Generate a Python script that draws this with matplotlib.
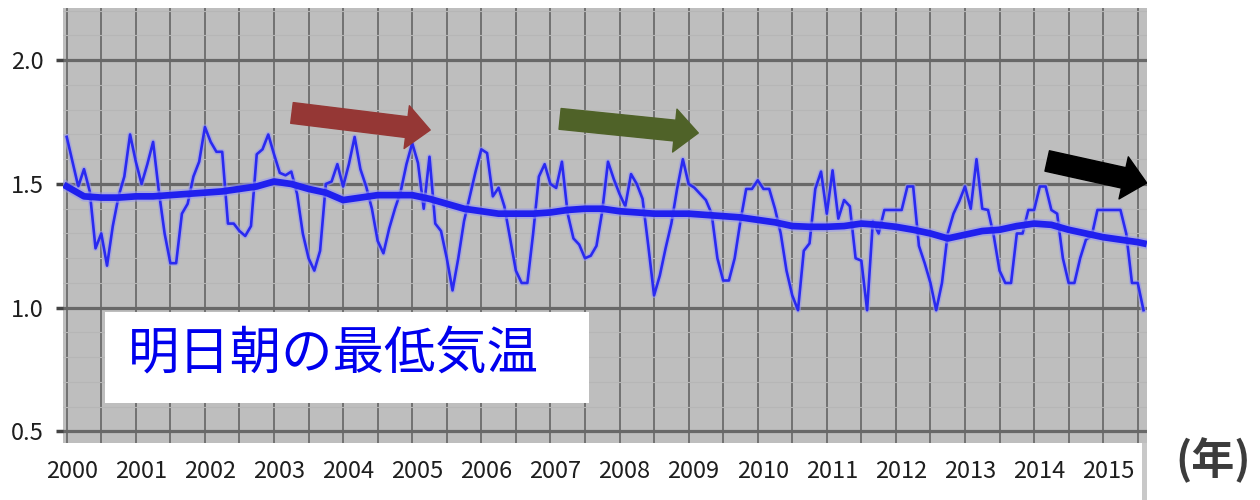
import numpy as np
import matplotlib
matplotlib.use('Agg')
import matplotlib.pyplot as plt
import matplotlib.patheffects as pe
import matplotlib.transforms as mtransforms
from matplotlib.patches import Rectangle, FancyArrowPatch
from matplotlib.ticker import FixedLocator, MultipleLocator, FormatStrFormatter

plt.rcParams['font.family'] = ['Liberation Sans Narrow', 'Noto Sans CJK JP', 'DejaVu Sans']

# monthly values, Jan 2000 onwards
start_year = 2000
monthly = [
    1.69, 1.59, 1.49, 1.56, 1.47, 1.24, 1.30, 1.17, 1.33, 1.45, 1.53, 1.70,   # 2000
    1.59, 1.50, 1.58, 1.67, 1.47, 1.30, 1.18, 1.18, 1.38, 1.42, 1.53, 1.59,   # 2001
    1.73, 1.67, 1.63, 1.63, 1.34, 1.34, 1.31, 1.29, 1.33, 1.62, 1.64, 1.70,   # 2002
    1.62, 1.545, 1.535, 1.55, 1.46, 1.30, 1.20, 1.15, 1.23, 1.50, 1.51, 1.58, # 2003
    1.49, 1.58, 1.69, 1.56, 1.49, 1.40, 1.27, 1.22, 1.32, 1.40, 1.47, 1.58,   # 2004
    1.665, 1.585, 1.40, 1.61, 1.34, 1.31, 1.20, 1.07, 1.20, 1.35, 1.45, 1.55, # 2005
    1.64, 1.625, 1.45, 1.485, 1.41, 1.28, 1.15, 1.10, 1.10, 1.30, 1.53, 1.58, # 2006
    1.50, 1.484, 1.59, 1.38, 1.28, 1.255, 1.20, 1.21, 1.25, 1.39, 1.59, 1.52, # 2007
    1.46, 1.41, 1.54, 1.50, 1.44, 1.25, 1.05, 1.13, 1.24, 1.34, 1.48, 1.60,   # 2008
    1.50, 1.485, 1.46, 1.435, 1.38, 1.20, 1.11, 1.11, 1.20, 1.35, 1.48, 1.48, # 2009
    1.515, 1.48, 1.48, 1.40, 1.30, 1.15, 1.05, 0.99, 1.23, 1.26, 1.48, 1.55, # 2010
    1.38, 1.555, 1.36, 1.435, 1.41, 1.20, 1.19, 0.99, 1.35, 1.30, 1.395, 1.395, # 2011
    1.395, 1.395, 1.49, 1.49, 1.25, 1.18, 1.10, 0.99, 1.10, 1.30, 1.38, 1.43,  # 2012
    1.49, 1.40, 1.60, 1.40, 1.395, 1.29, 1.15, 1.10, 1.10, 1.30, 1.30, 1.395,  # 2013
    1.395, 1.49, 1.49, 1.395, 1.38, 1.20, 1.10, 1.10, 1.20, 1.275, 1.29, 1.395, # 2014
    1.395, 1.395, 1.395, 1.395, 1.30, 1.10, 1.10, 0.99,                         # 2015
]

# smoothed trend, read every third month (plus the last month)
trend_months = list(range(0, 187, 3)) + [187]
trend = [
    1.49, 1.45, 1.445, 1.445, 1.45, 1.45, 1.455, 1.46, 1.465, 1.47, 1.48, 1.49,
    1.51, 1.50, 1.48, 1.465, 1.435, 1.445, 1.455, 1.455, 1.455, 1.44, 1.42, 1.40,
    1.39, 1.38, 1.38, 1.38, 1.385, 1.395, 1.40, 1.40, 1.39, 1.385, 1.38, 1.38,
    1.38, 1.375, 1.37, 1.365, 1.355, 1.345, 1.33, 1.327, 1.327, 1.33, 1.34, 1.335,
    1.327, 1.315, 1.30, 1.28, 1.295, 1.31, 1.315, 1.33, 1.34, 1.335, 1.315, 1.30,
    1.285, 1.275, 1.265, 1.26,
]

year_labels = list(range(2000, 2016))
title_text = '明日朝の最低気温'
unit_text = '(年)'

months = start_year + np.arange(len(monthly)) / 12
trend_x = start_year + np.array(trend_months) / 12

fig = plt.figure(figsize=(12.6, 5), dpi=100)
ax = fig.add_axes([63 / 1260, 57 / 500, 1084 / 1260, 435 / 500])
ax.set_facecolor('#bebebe')
ax.set_xlim(1999.946, 2015.634)
ax.set_ylim(0.4535, 2.211)

# grid: half-year verticals, 0.5 horizontals plus faint 0.1 lines
ax.xaxis.set_major_locator(FixedLocator(year_labels))
ax.xaxis.set_minor_locator(FixedLocator([y + 0.5 for y in year_labels]))
ax.set_xticklabels([str(y) for y in year_labels])
ax.yaxis.set_major_locator(MultipleLocator(0.5))
ax.yaxis.set_minor_locator(MultipleLocator(0.1))
ax.yaxis.set_major_formatter(FormatStrFormatter('%.1f'))
ax.grid(which='both', axis='x', color='#6c6c6c', lw=1.3)
ax.grid(which='major', axis='y', color='#686868', lw=2.3)
ax.grid(which='minor', axis='y', color='#b6b6b6', lw=0.8)
ax.set_axisbelow(True)
for s in ax.spines.values():
    s.set_visible(False)

ax.tick_params(axis='x', which='both', length=0, pad=12, labelsize=17, labelcolor='#1e1e1e')
ax.tick_params(axis='y', which='major', length=5, width=2.5, color='#444444', direction='out',
               pad=9, labelsize=17, labelcolor='#1e1e1e')
ax.tick_params(axis='y', which='minor', length=0)
shift = mtransforms.ScaledTranslation(5 / 100, 0, fig.dpi_scale_trans)
for lab in ax.get_xticklabels():
    lab.set_transform(lab.get_transform() + shift)

halo = '#9a9aee'
ax.plot(months, monthly, color='#2a2af0', lw=1.9, zorder=3,
        path_effects=[pe.Stroke(linewidth=4, foreground=halo, alpha=0.6), pe.Normal()])
ax.plot(trend_x, trend, color='#2020ee', lw=4.8, zorder=4,
        path_effects=[pe.Stroke(linewidth=7.5, foreground=halo, alpha=0.6), pe.Normal()])

# trend arrows
arrows = [
    ((2003.26, 1.787), (2005.26, 1.718), '#953735'),
    ((2007.14, 1.763), (2009.14, 1.706), '#4f6228'),
    ((2014.19, 1.593), (2015.63, 1.504), '#000000'),
]
for a, b, c in arrows:
    ax.add_patch(FancyArrowPatch(a, b, arrowstyle='simple,head_length=17,head_width=31,tail_width=15',
                                 mutation_scale=1, color=c, shrinkA=0, shrinkB=0, zorder=6))

ax.add_patch(Rectangle((0.0387, 0.092), 0.4465, 0.209, transform=ax.transAxes,
                       facecolor='white', edgecolor='none', zorder=6))
ax.text(0.06, 0.2023, title_text, transform=ax.transAxes, ha='left', va='center',
        fontsize=37, color='#0000ee', family=['Noto Sans CJK JP', 'DejaVu Sans'], zorder=7)

fig.text(1175 / 1260, 1 - 460 / 500, unit_text, ha='left', va='center', fontsize=31,
         fontweight='bold', color='#3c3c3c', family=['Noto Sans CJK JP', 'DejaVu Sans'])
fig.patches.append(Rectangle((1142 / 1260, 0), 5 / 1260, 57 / 500, transform=fig.transFigure,
                             facecolor='#c8c8c8', edgecolor='none'))

fig.savefig('out.png', dpi=100)
